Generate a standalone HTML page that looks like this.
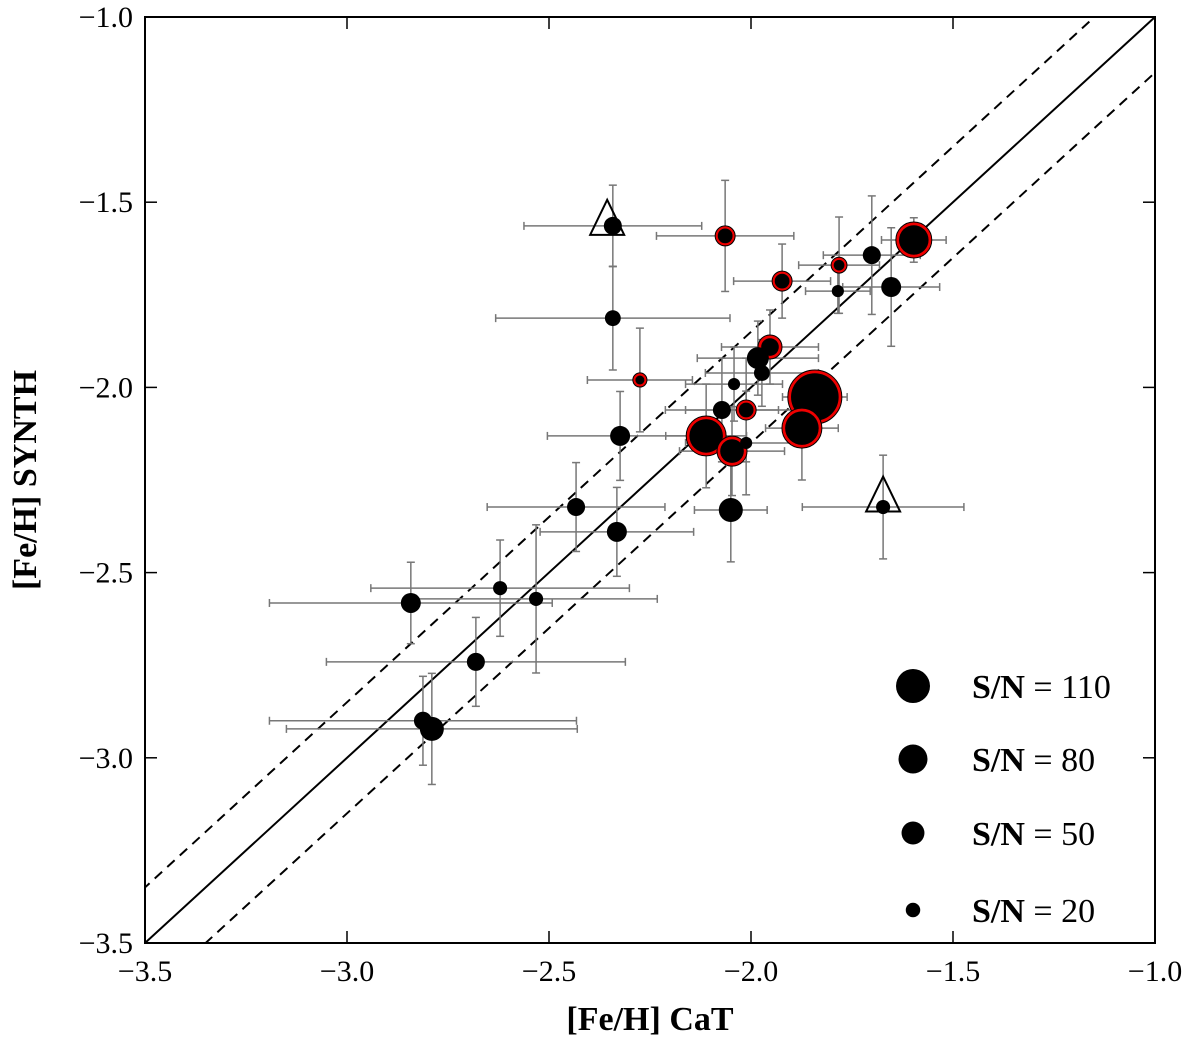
<!DOCTYPE html>
<html><head><meta charset="utf-8"><style>
body{margin:0;background:#fff}
svg{display:block}
text{font-family:"Liberation Serif",serif;fill:#000}
</style></head><body>
<svg id="c" width="1200" height="1042" xmlns="http://www.w3.org/2000/svg"></svg>
<script>
const xVals=[-2.342,-2.064,-1.597,-1.701,-1.782,-1.923,-1.785,-1.653,-2.342,-1.953,-1.983,-1.973,-2.275,-2.042,-1.842,-2.072,-2.012,-1.874,-2.111,-2.324,-2.047,-2.012,-2.433,-2.050,-2.332,-1.673,-2.621,-2.532,-2.842,-2.681,-2.812,-2.790];
const yVals=[-1.564,-1.591,-1.602,-1.643,-1.670,-1.713,-1.740,-1.729,-1.813,-1.891,-1.921,-1.961,-1.980,-1.991,-2.026,-2.061,-2.061,-2.110,-2.131,-2.131,-2.172,-2.150,-2.323,-2.331,-2.390,-2.323,-2.542,-2.571,-2.582,-2.741,-2.900,-2.922];
const xErr=[0.22,0.17,0.08,0.12,0.10,0.12,0.08,0.12,0.29,0.12,0.15,0.14,0.13,0.12,0.08,0.14,0.15,0.09,0.10,0.18,0.13,0.15,0.22,0.09,0.19,0.20,0.32,0.30,0.35,0.37,0.38,0.36];
const yErr=[0.11,0.15,0.06,0.16,0.13,0.10,0.06,0.16,0.14,0.10,0.10,0.09,0.14,0.10,0.07,0.14,0.14,0.14,0.14,0.12,0.12,0.14,0.12,0.14,0.12,0.14,0.13,0.20,0.11,0.12,0.12,0.15];
const snVals=[31,38,123,31,24,38,14,38,24,55,46,24,19,14,278,31,38,152,152,38,86,14,31,55,38,19,19,19,38,31,31,55];
const redFlag=[0,1,1,0,1,1,0,0,0,1,0,0,1,0,1,0,1,1,1,0,1,0,0,0,0,0,0,0,0,0,0,0];
const triX=[-2.356,-1.673];
const triY=[-1.553,-2.300];
const ticks=[-3.5,-3.0,-2.5,-2.0,-1.5,-1.0];
const tickLabels=["\u22123.5","\u22123.0","\u22122.5","\u22122.0","\u22121.5","\u22121.0"];
const legendSN=[110,80,50,20];

const X0=145,X1=1155,Y0=943,Y1=17;
const sx=v=>X0+(v+3.5)/2.5*(X1-X0);
const sy=v=>Y0-(v+3.5)/2.5*(Y0-Y1);
const rad=sn=>1.62*Math.sqrt(sn);
const svg=document.getElementById('c');
const NS='http://www.w3.org/2000/svg';
function mk(t,a,p){const e=document.createElementNS(NS,t);for(const k in a)e.setAttribute(k,a[k]);(p||svg).appendChild(e);return e;}

const defs=mk('defs',{});const cp=mk('clipPath',{id:'pc'},defs);mk('rect',{x:X0,y:Y1,width:X1-X0,height:Y0-Y1},cp);
const g=mk('g',{'clip-path':'url(#pc)'});



const l1=mk('line',{x1:sx(-3.5),y1:sy(-3.5),x2:sx(-1),y2:sy(-1),stroke:'#000','stroke-width':2},g);


[0.15,-0.15].forEach(o=>{const l=mk('line',{x1:sx(-3.6),y1:sy(-3.6+o),x2:sx(-0.9),y2:sy(-0.9+o),stroke:'#000','stroke-width':2,'stroke-dasharray':'10,7'},g);

});

xVals.forEach((x,i)=>{const y=yVals[i];const eg=mk('g',{stroke:'#777','stroke-width':1.5},g);


const a=sx(x-xErr[i]),b=sx(x+xErr[i]),c=sy(y+yErr[i]),d=sy(y-yErr[i]),px=sx(x),py=sy(y);
mk('line',{x1:a,y1:py,x2:b,y2:py},eg);mk('line',{x1:px,y1:c,x2:px,y2:d},eg);
[a,b].forEach(q=>mk('line',{x1:q,y1:py-4,x2:q,y2:py+4},eg));
[c,d].forEach(q=>mk('line',{x1:px-4,y1:q,x2:px+4,y2:q},eg));});

triX.forEach((x,i)=>{const px=sx(x),py=sy(triY[i]);const t=mk('polygon',{points:`${px},${py-22} ${px-17},${py+13} ${px+17},${py+13}`,fill:'none',stroke:'#000','stroke-width':2},g);

});

xVals.forEach((x,i)=>{const r=rad(snVals[i]),px=sx(x),py=sy(yVals[i]);
if(redFlag[i]){const o=mk('circle',{cx:px,cy:py,r:r,fill:'#e00',stroke:'#000','stroke-width':1},g);


const ring=r>12?3.2:2.6;
mk('circle',{cx:px,cy:py,r:Math.max(r-ring,2),fill:'#000'},g);}
else{const o=mk('circle',{cx:px,cy:py,r:r,fill:'#000'},g);

}});

const legY=[686,759,833,910];
legendSN.forEach((s,i)=>{const c=mk('circle',{cx:913,cy:legY[i],r:rad(s),fill:'#000'});


const t=mk('text',{x:972,y:legY[i]+12,'font-size':34});
const b=mk('tspan',{'font-weight':'bold'},t);b.textContent='S/N';
const r2=mk('tspan',{},t);r2.textContent=' = '+s;

});

const fr=mk('rect',{x:X0,y:Y1,width:X1-X0,height:Y0-Y1,fill:'none',stroke:'#000','stroke-width':2});



ticks.forEach((v,i)=>{const px=sx(v),py=sy(v);
mk('line',{x1:px,y1:Y0,x2:px,y2:Y0-12,stroke:'#000','stroke-width':1.5});
mk('line',{x1:px,y1:Y1,x2:px,y2:Y1+12,stroke:'#000','stroke-width':1.5});
mk('line',{x1:X0,y1:py,x2:X0+12,y2:py,stroke:'#000','stroke-width':1.5});
mk('line',{x1:X1,y1:py,x2:X1-12,y2:py,stroke:'#000','stroke-width':1.5});
const tx=mk('text',{x:px,y:981,'font-size':30,'text-anchor':'middle'});tx.textContent=tickLabels[i];


const ty=mk('text',{x:133,y:py+10,'font-size':30,'text-anchor':'end'});ty.textContent=tickLabels[i];

});

const xt=mk('text',{x:650,y:1030,'font-size':34,'font-weight':'bold','text-anchor':'middle'});xt.textContent='[Fe/H] CaT';


const yt=mk('text',{x:0,y:0,'font-size':34,'font-weight':'bold','text-anchor':'middle',transform:'translate(36,480) rotate(-90)'});yt.textContent='[Fe/H] SYNTH';


</script>
</body></html>
